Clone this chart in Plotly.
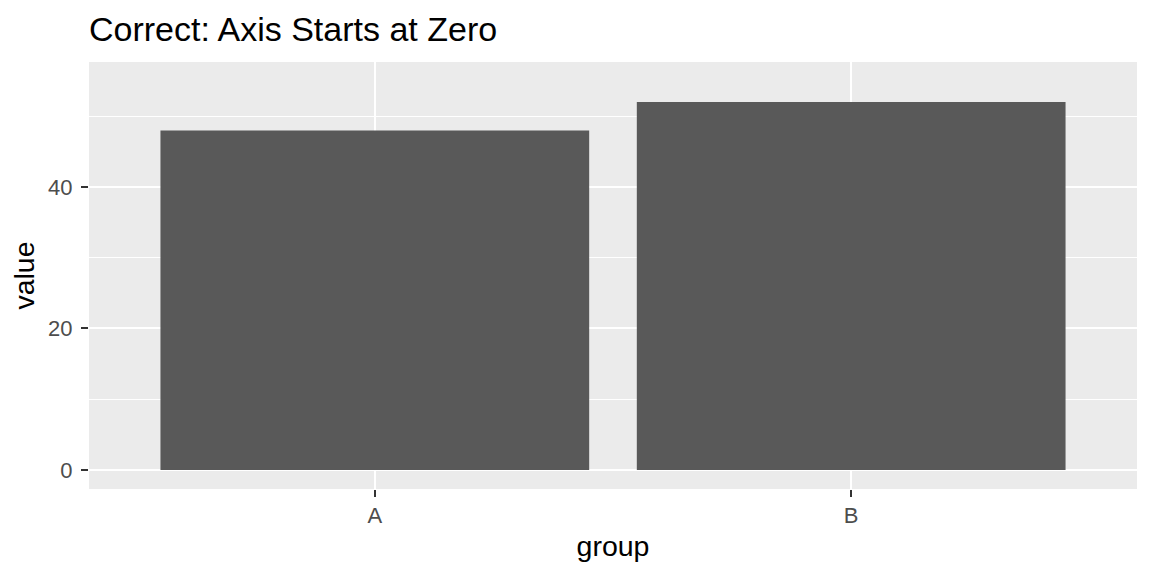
import plotly.graph_objs as go

groups = ['A', 'B']
values = [48, 52]

bars = go.Bar(
	x=groups,
	y=values,
	width=0.9,
	marker=dict(color='#595959', line=dict(width=0)),
	showlegend=False
)

# the page body has an 8px margin, so the figure is a little smaller
graph_layout = go.Layout(
	width=1144,
	height=568,
	margin=dict(l=81, r=15, t=54, b=87),
	paper_bgcolor='white',
	plot_bgcolor='#EBEBEB',
	font=dict(family='Liberation Sans, Arial, sans-serif', color='black'),
	title=dict(
		text='Correct: Axis Starts at Zero',
		font=dict(size=34, color='black'),
		x=0, xref='paper', xanchor='left',
		y=1 - 21 / 568, yref='container', yanchor='middle'
	),
	xaxis=dict(
		title=dict(text='group', font=dict(size=28.5, color='black'), standoff=8),
		range=[-0.6, 1.6],
		showgrid=True,
		gridcolor='white',
		gridwidth=2,
		ticks='outside',
		ticklen=7,
		tickwidth=1.6,
		tickcolor='#333333',
		tickfont=dict(size=22, color='#4D4D4D'),
		ticklabelstandoff=0,
		zeroline=False,
		showline=False,
		automargin=False
	),
	yaxis=dict(
		title=dict(text='value', font=dict(size=28.5, color='black'), standoff=11),
		range=[-2.69, 57.67],
		tickvals=[0, 20, 40],
		showgrid=True,
		gridcolor='white',
		gridwidth=2,
		minor=dict(tickvals=[10, 30, 50], showgrid=True, gridcolor='white', gridwidth=1, ticks=''),
		ticks='outside',
		ticklen=7,
		tickwidth=1.6,
		tickcolor='#333333',
		tickfont=dict(size=22, color='#4D4D4D'),
		ticklabelstandoff=4,
		zeroline=False,
		showline=False,
		automargin=False
	),
	bargap=0.1
)

fig = go.Figure([bars], graph_layout)
fig.write_html('out.html')
